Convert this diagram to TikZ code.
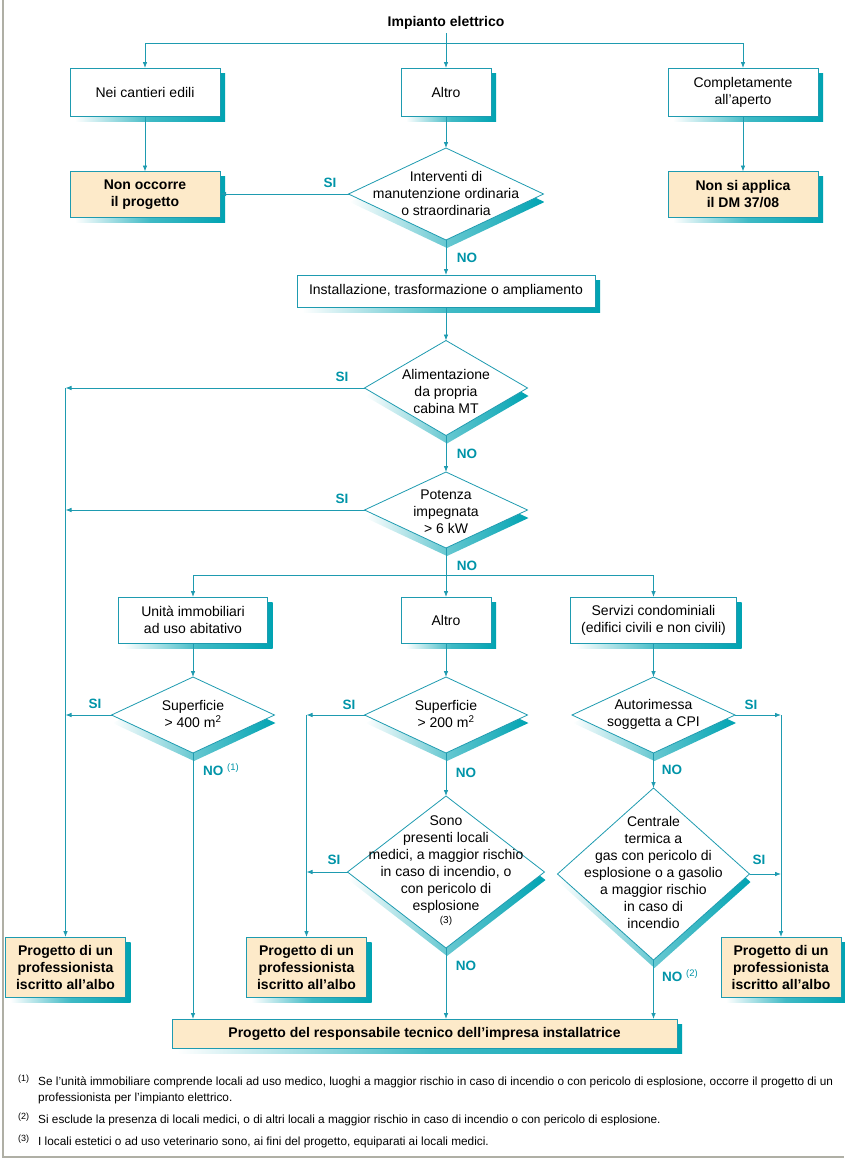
\documentclass[tikz,border=0pt]{standalone}
\usepackage{fontspec}
\setmainfont{Liberation Sans}
\usetikzlibrary{arrows.meta,positioning,shapes.geometric}

\definecolor{linec}{RGB}{30,155,176}
\definecolor{shadec}{RGB}{0,163,178}
\definecolor{labc}{RGB}{0,148,168}
\definecolor{beige}{RGB}{253,234,201}
\definecolor{framec}{RGB}{175,175,165}

\tikzset{
  every node/.style={font=\fontsize{14}{17}\selectfont},
  boxshadow/.style={preaction={draw=none, left color=white, right color=shadec,
      middle color=shadec!75, transform canvas={shift={(5pt,-5pt)}}}},
  diashadow/.style={preaction={draw=none, left color=white, right color=shadec,
      middle color=shadec!60, transform canvas={shift={(1pt,-8pt)}}}},
  qbox/.style={draw=linec, line width=0.8pt, fill=white, inner sep=0pt,
      outer sep=0pt, align=center, boxshadow},
  result/.style={qbox, fill=beige, font=\fontsize{14}{17}\selectfont\bfseries},
  decision/.style={diamond, draw=linec, line width=0.8pt, fill=white,
      inner sep=0pt, outer sep=0pt, diashadow},
  dtext/.style={align=center, inner sep=0pt},
  yes/.style={text=labc, font=\fontsize{13.5}{16}\selectfont\bfseries, inner sep=0pt},
  link/.style={draw=linec, line width=0.8pt},
  flow/.style={link, ->},
  nota/.style={font=\fontsize{11.8}{16}\selectfont, inner sep=0pt, align=left},
  notamark/.style={font=\fontsize{9}{10}\selectfont, inner sep=0pt}
}

\begin{document}
\begin{tikzpicture}[x=1pt,y=-1pt,>={Latex[length=6pt,width=4.6pt]}]
    \useasboundingbox (0,0) rectangle (844,1159);
    \draw[framec, line width=1.2pt] (3,0) -- (3,1157) -- (844,1157);

    \node[font=\fontsize{14}{17}\selectfont\bfseries] (titolo) at (446,23) {Impianto elettrico};
    \coordinate (ramo) at (446,43);

    % primo livello
    \node[qbox, minimum width=150, minimum height=48] (cantieri) at (145,92) {Nei cantieri edili};
    \node[qbox, minimum width=90, minimum height=48] (altroa) at (446,92) {Altro};
    \node[qbox, minimum width=150, minimum height=48] (aperto) at (743,92) {Completamente\\all’aperto};

    \node[result, minimum width=150, minimum height=46] (noprog) at (145,194.5) {Non occorre\\il progetto};
    \node[result, minimum width=150, minimum height=46] (nodm) at (743,194.5) {Non si applica\\il DM 37/08};

    \node[decision, minimum width=195, minimum height=92] (manut) at (446,194) {};
    \node[dtext] (manut-t) at (446,193) {Interventi di\\manutenzione ordinaria\\o straordinaria};

    \node[qbox, minimum width=298, minimum height=32] (install) at (446,291) {Installazione, trasformazione o ampliamento};

    \node[decision, minimum width=163, minimum height=95] (cabina) at (446,388) {};
    \node[dtext] (cabina-t) at (446,391) {Alimentazione\\da propria\\cabina MT};

    \node[decision, minimum width=163, minimum height=76] (potenza) at (446,510) {};
    \node[dtext] (potenza-t) at (446,512) {Potenza\\impegnata\\> 6 kW};
    \coordinate (ramob) at (446,575);

    % secondo livello
    \node[qbox, minimum width=149, minimum height=46] (abitativo) at (193,620) {Unità immobiliari\\ad uso abitativo};
    \node[qbox, minimum width=90, minimum height=46] (altrob) at (446,620) {Altro};
    \node[qbox, minimum width=166, minimum height=46] (condomini) at (653.5,620) {Servizi condominiali\\(edifici civili e non civili)};

    \node[decision, minimum width=163, minimum height=76] (sup400) at (193,715) {};
    \node[dtext] (sup400-t) at (193,714) {Superficie\\> 400 m\textsuperscript{2}};
    \node[decision, minimum width=163, minimum height=76] (sup200) at (446,715) {};
    \node[dtext] (sup200-t) at (446,714) {Superficie\\> 200 m\textsuperscript{2}};
    \node[decision, minimum width=163, minimum height=76] (autorim) at (653.5,715) {};
    \node[dtext] (autorim-t) at (653.5,714) {Autorimessa\\soggetta a CPI};

    \node[decision, minimum width=197, minimum height=152] (medici) at (446,872) {};
    \node[dtext] (medici-t) at (446,871) {Sono\\presenti locali\\medici, a maggior rischio\\in caso di incendio, o\\con pericolo di\\esplosione\\[-4pt]{\fontsize{10}{12}\selectfont(3)}};
    \node[decision, minimum width=192, minimum height=172] (centrale) at (653.5,874) {};
    \node[dtext] (centrale-t) at (653.5,872) {Centrale\\termica a\\gas con pericolo di\\esplosione o a gasolio\\a maggior rischio\\in caso di\\incendio};

    \foreach \nome/\x in {profsx/65.5,profc/306.5,profdx/781}
      \node[result, minimum width=120, minimum height=60] (\nome) at (\x,967) {Progetto di un\\professionista\\iscritto all’albo};

    \node[result, minimum width=505, minimum height=29] (impresa) at (424.5,1033.5) {Progetto del responsabile tecnico dell’impresa installatrice};

    % collegamenti
    \draw[flow] (titolo) -- (altroa);
    \draw[flow] (ramo) -| (cantieri);
    \draw[flow] (ramo) -| (aperto);
    \draw[flow] (cantieri) -- (noprog);
    \draw[flow] (aperto) -- (nodm);
    \draw[flow] (altroa) -- (manut);
    \draw[flow] (manut.west) -- (manut.west -| noprog.east);
    \draw[flow] (manut) -- (install);
    \draw[flow] (install) -- (cabina);
    \draw[flow] (cabina.west) -- (cabina.west -| profsx);
    \draw[flow] (cabina.west -| profsx) -- (profsx);
    \draw[flow] (cabina) -- (potenza);
    \draw[flow] (potenza.west) -- (potenza.west -| profsx);
    \draw[flow] (potenza) -- (altrob);
    \draw[flow] (ramob) -| (abitativo);
    \draw[flow] (ramob) -| (condomini);
    \draw[flow] (abitativo) -- (sup400);
    \draw[flow] (altrob) -- (sup200);
    \draw[flow] (condomini) -- (autorim);
    \draw[flow] (sup400.west) -- (sup400.west -| profsx);
    \draw[flow] (sup400) -- (sup400 |- impresa.north);
    \draw[flow] (sup200.west) -- (sup200.west -| profc);
    \draw[flow] (sup200.west -| profc) -- (profc);
    \draw[flow] (sup200) -- (medici);
    \draw[flow] (medici.west) -- (medici.west -| profc);
    \draw[flow] (medici) -- (medici |- impresa.north);
    \draw[flow] (autorim.east) -- (autorim.east -| profdx);
    \draw[flow] (autorim.east -| profdx) -- (profdx);
    \draw[flow] (autorim) -- (centrale);
    \draw[flow] (centrale.east) -- (centrale.east -| profdx);
    \draw[flow] (centrale) -- (centrale |- impresa.north);

    % SI / NO
    \foreach \nome/\x/\y/\t in {si1/330/183/SI,no1/467/258/NO,si2/342/377/SI,no2/467/454/NO,
        si3/342/499/SI,no3/467/566/NO,si4/95/704/SI,si5/349/705/SI,no5/466/773/NO,
        si6/751/705/SI,no6/672/770/NO,si7/334/860/SI,si8/759/860/SI,no7/466/966/NO}
      \node[yes] (\nome) at (\x,\y) {\t};
    \node[yes, anchor=west] (no4) at (203,770) {NO \textsuperscript{\mdseries(1)}};
    \node[yes, anchor=west] (no8) at (662,976) {NO \textsuperscript{\mdseries(2)}};

    % note
    \node[notamark, anchor=base west] (m1) at (18,1081) {(1)};
    \node[nota, anchor=north west] (nota1) at (38,1076.5) {Se l'unità immobiliare comprende locali ad uso medico, luoghi a maggior rischio in caso di incendio o con pericolo di esplosione, occorre il progetto di un\\professionista per l'impianto elettrico.};
    \node[notamark, anchor=base west] (m2) at (18,1119) {(2)};
    \node[nota, anchor=north west] (nota2) at (38,1114.5) {Si esclude la presenza di locali medici, o di altri locali a maggior rischio in caso di incendio o con pericolo di esplosione.};
    \node[notamark, anchor=base west] (m3) at (18,1141) {(3)};
    \node[nota, anchor=north west] (nota3) at (38,1136.5) {I locali estetici o ad uso veterinario sono, ai fini del progetto, equiparati ai locali medici.};
\end{tikzpicture}
\end{document}
